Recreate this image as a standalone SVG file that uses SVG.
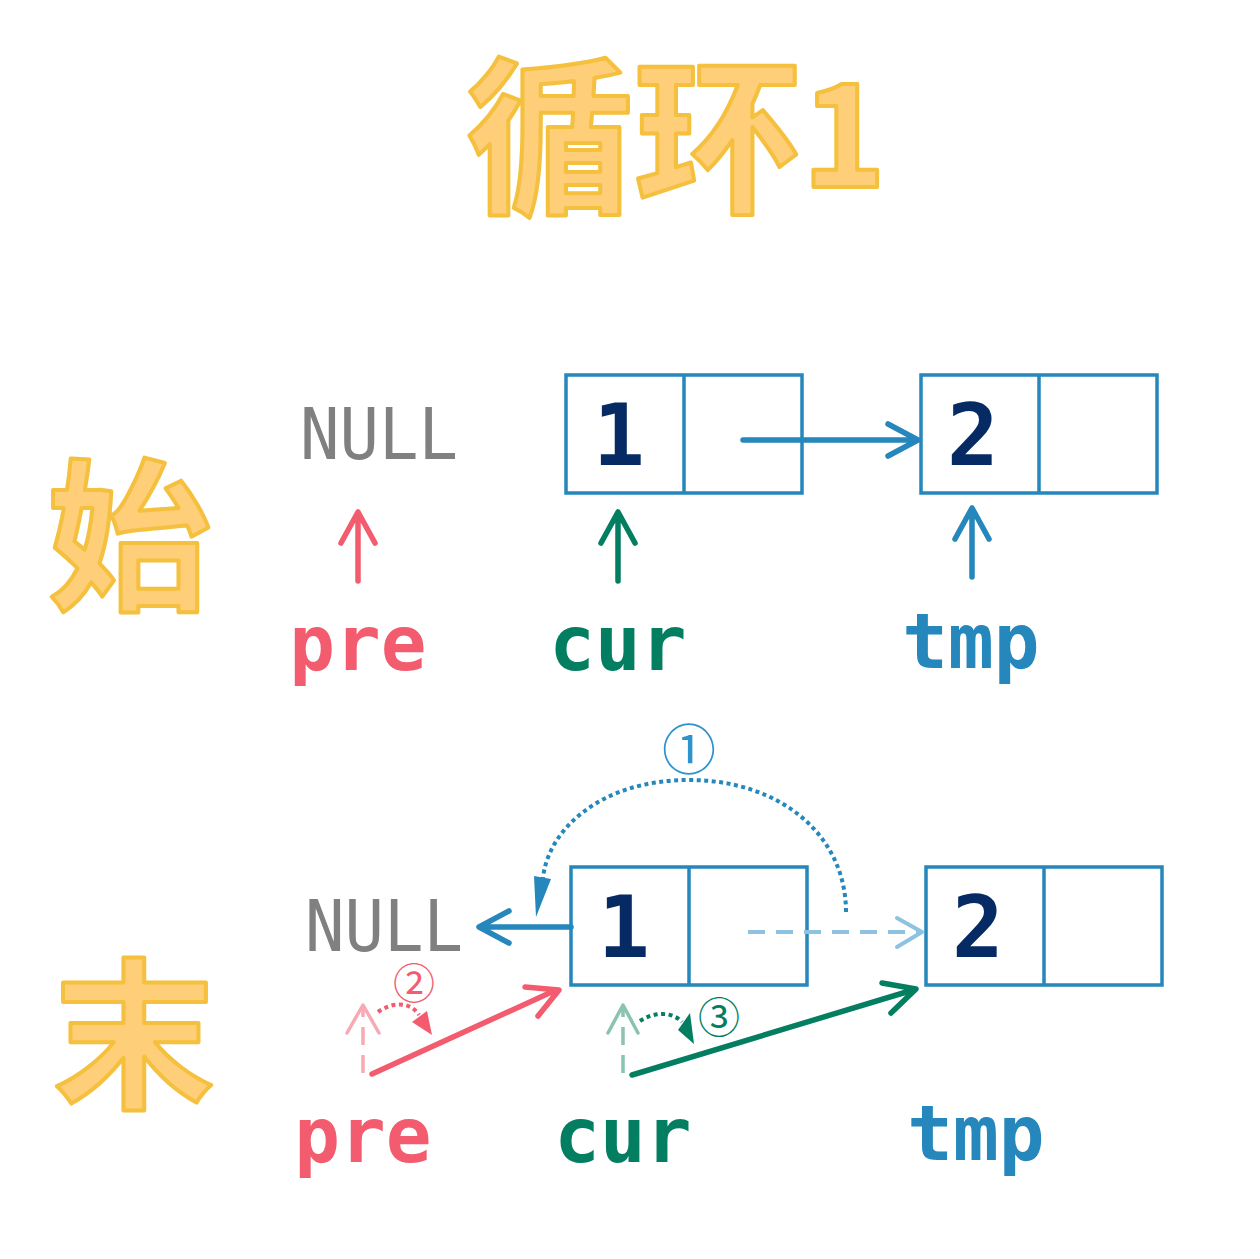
<svg xmlns="http://www.w3.org/2000/svg" width="1260" height="1259" viewBox="0 0 1260 1259">
<defs>
<style>
.big{font-family:"Noto Sans CJK SC","Noto Sans",sans-serif;font-weight:bold;fill:#FECE78;stroke:#F4C03E;stroke-width:4;stroke-linejoin:round;text-anchor:middle}
.box{fill:none;stroke:#2587BC;stroke-width:3.5}
.num{font-family:"DejaVu Sans Mono",monospace;font-weight:bold;font-size:86px;fill:#062A63;text-anchor:middle}
.null{font-family:"DejaVu Sans Mono",monospace;font-size:72px;fill:#808080}
.lbl{font-family:"DejaVu Sans Mono",monospace;font-weight:bold;font-size:76px;text-anchor:middle}
.ln{fill:none;stroke-width:5.5;stroke-linecap:round;stroke-linejoin:round}
.red{stroke:#F25C6E}.green{stroke:#047E61}.blue{stroke:#2587BC}
.circ{font-family:"Noto Sans CJK SC","DejaVu Sans",sans-serif;text-anchor:middle}
</style>
</defs>
<rect width="1260" height="1259" fill="#FFFFFF"/>
<g id="title">
<text class="big" x="634" y="200" font-size="168">循环</text>
<text class="big" x="844" y="187" font-size="143">1</text>
</g>
<g id="label-start"><text class="big" x="129" y="597" font-size="164">始</text></g>
<g id="label-end"><text class="big" x="134" y="1096" font-size="162">末</text></g>

<g id="top-null"><text class="null" x="300" y="459" textLength="158" lengthAdjust="spacingAndGlyphs">NULL</text></g>
<g id="top-node1">
<rect class="box" x="566" y="375" width="236" height="118"/>
<line class="box" x1="684" y1="375" x2="684" y2="493"/>
<text class="num" x="619" y="465">1</text>
</g>
<g id="top-node2">
<rect class="box" x="921" y="375" width="236" height="118"/>
<line class="box" x1="1039" y1="375" x2="1039" y2="493"/>
<text class="num" x="973" y="465">2</text>
</g>
<g id="top-pre"><text class="lbl" x="358" y="670" fill="#F25C6E">pre</text></g>
<g id="top-cur"><text class="lbl" x="618" y="670" fill="#047E61">cur</text></g>
<g id="top-tmp"><text class="lbl" x="971" y="668" fill="#2587BC">tmp</text></g>

<g id="bot-null"><text class="null" x="305" y="951" textLength="158" lengthAdjust="spacingAndGlyphs">NULL</text></g>
<g id="bot-node1">
<rect class="box" x="571" y="867" width="236" height="118"/>
<line class="box" x1="689" y1="867" x2="689" y2="985"/>
<text class="num" x="624" y="957">1</text>
</g>
<g id="bot-node2">
<rect class="box" x="926" y="867" width="236" height="118"/>
<line class="box" x1="1044" y1="867" x2="1044" y2="985"/>
<text class="num" x="978" y="957">2</text>
</g>
<g id="bot-pre"><text class="lbl" x="363" y="1162" fill="#F25C6E">pre</text></g>
<g id="bot-cur"><text class="lbl" x="623" y="1162" fill="#047E61">cur</text></g>
<g id="bot-tmp"><text class="lbl" x="976" y="1160" fill="#2587BC">tmp</text></g>

<g id="step-labels">
<text class="circ" x="689" y="770" font-size="54" fill="#2E93CC">①</text>
<text class="circ" x="414" y="999" font-size="42" fill="#F25C6E">②</text>
<text class="circ" x="719" y="1033" font-size="42" fill="#047E61">③</text>
</g>

<g id="connectors">
<!-- top -->
<path class="ln red" d="M358 581V514M341 543L358 512L375 543"/>
<path class="ln green" d="M618 581V514M601 543L618 512L635 543"/>
<path class="ln blue" d="M972 577V510M955 539L972 508L989 539"/>
<path class="ln blue" d="M743 440H916M888 424L918 440L888 456"/>
<!-- bottom -->
<path class="ln blue" d="M571 927H481M509 911L479 927L509 943"/>
<path fill="none" stroke="#8DC3E0" stroke-width="4" stroke-dasharray="17 11" d="M748 932H920"/>
<path fill="none" stroke="#8DC3E0" stroke-width="4" stroke-linecap="round" stroke-linejoin="round" d="M897 918L922 932L897 947"/>
<path fill="none" stroke="#2587BC" stroke-width="4" stroke-dasharray="4 3.5" d="M846 912C846 835 780 780 689 780C600 780 548 830 543 878"/>
<path fill="#2587BC" d="M534 876L551 879L536 917Z"/>

<path fill="none" stroke="#F7AAB4" stroke-width="3.5" stroke-dasharray="18 10" d="M363 1073V1008"/>
<path fill="none" stroke="#F7AAB4" stroke-width="3.5" stroke-linecap="round" stroke-linejoin="round" d="M347 1033L363 1005L379 1033"/>
<path class="ln red" stroke-width="6" d="M372 1074L556 990M525 987L559 990L538 1016"/>
<path fill="none" stroke="#F25C6E" stroke-width="4" stroke-dasharray="4 3.5" d="M378 1012C392 1002 410 1001 419 1015"/>
<path fill="#F25C6E" d="M412 1022L427 1011L432 1035Z"/>

<path fill="none" stroke="#8AC4B0" stroke-width="3.5" stroke-dasharray="18 10" d="M623 1073V1008"/>
<path fill="none" stroke="#8AC4B0" stroke-width="3.5" stroke-linecap="round" stroke-linejoin="round" d="M608 1033L623 1005L638 1033"/>
<path class="ln green" stroke-width="6" d="M632 1075L913 990M882 983L916 989L891 1013"/>
<path fill="none" stroke="#047E61" stroke-width="4" stroke-dasharray="4 3.5" d="M640 1021C653 1012 672 1011 682 1022"/>
<path fill="#047E61" d="M678 1030L690 1013L694 1044Z"/>
</g>
</svg>
